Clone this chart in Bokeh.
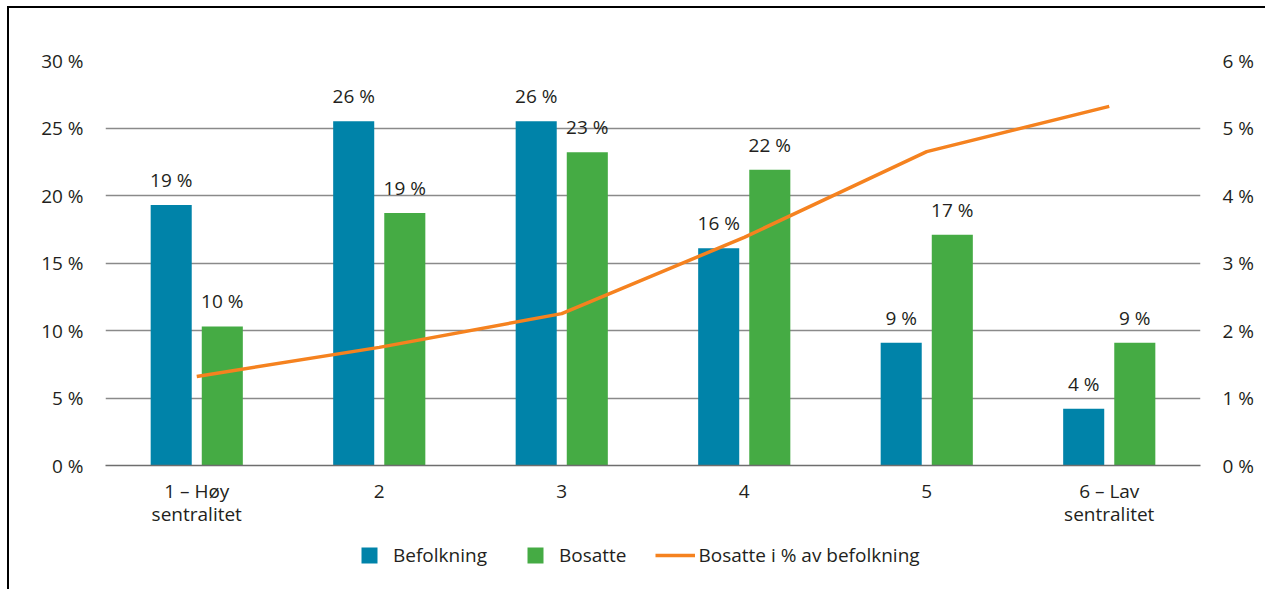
from bokeh.plotting import figure
from bokeh.layouts import column
from bokeh.models import (ColumnDataSource, FactorRange, Range1d, LinearAxis,
                          PrintfTickFormatter, Legend, LegendItem, FixedTicker)
from bokeh.transform import dodge
from bokeh.core.properties import value
from bokeh.embed import file_html
from bokeh.resources import INLINE

categories = ["1 – Høy\nsentralitet", "2", "3", "4", "5", "6 – Lav\nsentralitet"]
befolkning = [19.3, 25.5, 25.5, 16.1, 9.1, 4.2]
bosatte = [10.3, 18.7, 23.2, 21.9, 17.1, 9.1]
andel = [1.32, 1.75, 2.25, 3.38, 4.65, 5.32]

BLUE = "#0083A9"
GREEN = "#45AB44"
ORANGE = "#F5821F"
TEXT = "#231F20"
GRID = "#8A8A8A"
FONT = "Open Sans"
FS = "19px"

src = ColumnDataSource(dict(
    cat=categories, bef=befolkning, bos=bosatte, andel=andel,
    bef_lbl=[f"{int(v + 0.5)} %" for v in befolkning],
    bos_lbl=[f"{int(v + 0.5)} %" for v in bosatte],
))

LEFT_LINE = "linear-gradient(#000,#000) 7px 0px / 2px 100% no-repeat"
TOP_LINE = "linear-gradient(#000,#000) 7px 6px / 100% 2px no-repeat"

p = figure(frame_width=1095, frame_height=405, output_backend="svg", toolbar_location=None,
           x_range=FactorRange(factors=categories, range_padding=0),
           y_range=Range1d(0, 30),
           min_border_left=105, min_border_right=65, min_border_top=60,
           min_border_bottom=65)
p.border_fill_alpha = 0
p.styles = {"background": "linear-gradient(#000,#000) 7px 6px / 2px 100% no-repeat, "
                          + TOP_LINE + ", #fff"}
p.outline_line_color = None
p.extra_y_ranges = {"right": Range1d(0, 6)}

p.xgrid.grid_line_color = None
p.ygrid.grid_line_color = GRID
p.ygrid.grid_line_width = 1.3
p.ygrid.ticker = FixedTicker(ticks=[5, 10, 15, 20, 25, 30])

bw = 0.225
off = 0.14
p.vbar(x=dodge("cat", -off, range=p.x_range), top="bef", width=bw,
       source=src, fill_color=BLUE, line_color=None)
p.vbar(x=dodge("cat", off, range=p.x_range), top="bos", width=bw,
       source=src, fill_color=GREEN, line_color=None)
p.line(x="cat", y="andel", source=src, y_range_name="right",
       line_color=ORANGE, line_width=3.5)

for col, lbl, o in (("bef", "bef_lbl", -off), ("bos", "bos_lbl", off)):
    p.text(x=dodge("cat", o, range=p.x_range), y=col, text=lbl, source=src,
           text_align="center", text_baseline="bottom", y_offset=-12,
           text_font=value(FONT), text_font_size=FS, text_color=TEXT)

yl = p.yaxis[0]
yl.ticker = FixedTicker(ticks=[0, 5, 10, 15, 20, 25, 30])
yl.formatter = PrintfTickFormatter(format="%d %%")
yr = LinearAxis(y_range_name="right", ticker=FixedTicker(ticks=[0, 1, 2, 3, 4, 5, 6]),
                formatter=PrintfTickFormatter(format="%d %%"))
p.add_layout(yr, "right")
for ax in (yl, yr):
    ax.axis_line_color = None
    ax.major_tick_line_color = None
    ax.minor_tick_line_color = None
    ax.major_label_text_font = FONT
    ax.major_label_text_font_size = FS
    ax.major_label_text_color = TEXT
    ax.major_label_standoff = 16

xa = p.xaxis[0]
xa.axis_line_color = "#6E6E6E"
xa.axis_line_width = 1.5
xa.major_tick_line_color = None
xa.minor_tick_line_color = None
xa.major_label_text_font = FONT
xa.major_label_text_font_size = FS
xa.major_label_text_color = TEXT
xa.major_label_standoff = 6
xa.major_label_text_line_height = 0.9

# ---- legend strip below the chart ----
q = figure(width=1265, height=59, output_backend="svg", toolbar_location=None,
           x_range=FactorRange(factors=categories, range_padding=0),
           y_range=Range1d(0, 30),
           min_border_left=0, min_border_right=0, min_border_top=0, min_border_bottom=0)
q.border_fill_alpha = 0
q.background_fill_alpha = 0
q.styles = {"background": LEFT_LINE + ", #fff"}
q.outline_line_color = None
q.axis.visible = False
q.grid.visible = False

s1 = q.scatter(x="cat", y="bef", source=src, marker="square", fill_color=BLUE,
               line_color=None, visible=False)
s2 = q.scatter(x="cat", y="bos", source=src, marker="square", fill_color=GREEN,
               line_color=None, visible=False)
s3 = q.line(x="cat", y="andel", source=src, line_color=ORANGE, line_width=3.5,
            visible=False)

legend = Legend(items=[LegendItem(label="Befolkning", renderers=[s1]),
                       LegendItem(label="Bosatte", renderers=[s2]),
                       LegendItem(label="Bosatte i % av befolkning", renderers=[s3])],
                location=(244, 14), orientation="horizontal",
                glyph_width=40, glyph_height=40, label_standoff=4,
                padding=0, margin=0, spacing=28,
                border_line_color=None, background_fill_alpha=0,
                label_text_font=FONT, label_text_font_size=FS,
                label_text_color=TEXT)
q.add_layout(legend, "center")

layout = column(p, q, spacing=0)
open("out.html", "w").write(file_html(layout, INLINE))
